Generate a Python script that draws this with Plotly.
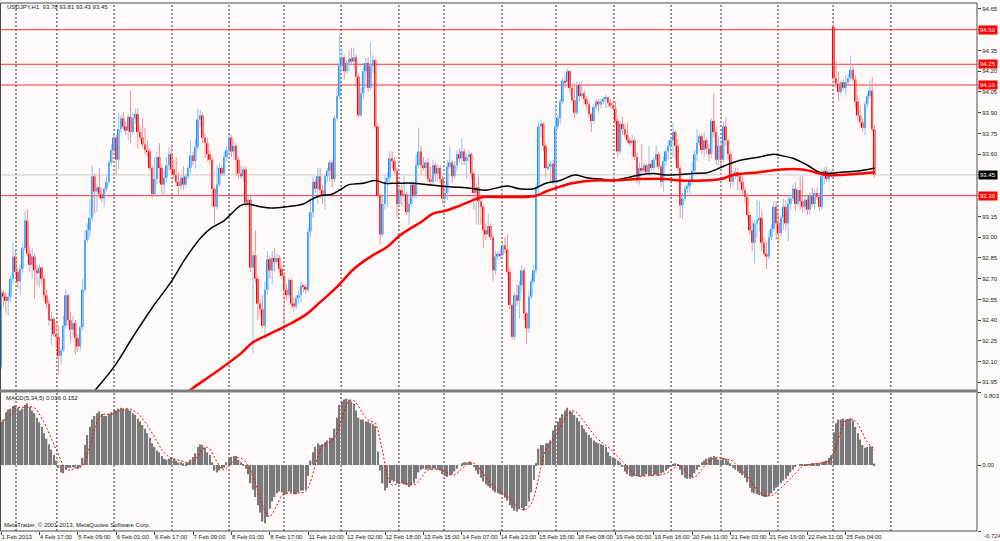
import plotly.graph_objects as go
import pandas as pd

# ---------------- data ----------------
time_labels = ["1 Feb 2013", "4 Feb 17:00", "5 Feb 09:00", "6 Feb 01:00", "6 Feb 17:00",
               "7 Feb 09:00", "8 Feb 01:00", "8 Feb 17:00", "11 Feb 10:00", "12 Feb 02:00",
               "12 Feb 18:00", "13 Feb 15:00", "14 Feb 07:00", "14 Feb 23:00", "15 Feb 15:00",
               "18 Feb 08:00", "19 Feb 00:00", "19 Feb 16:00", "20 Feb 11:00", "21 Feb 03:00",
               "21 Feb 19:00", "22 Feb 11:00", "25 Feb 04:00"]
label_step = 16  # bars between time labels

open_ = [
    92.06, 92.60, 92.57, 92.54, 92.57, 92.70, 92.86, 92.75, 92.68, 92.77,
    92.92, 93.12, 92.88, 92.80, 92.86, 92.76, 92.74, 92.78, 92.70, 92.58,
    92.52, 92.40, 92.41, 92.30, 92.28, 92.14, 92.18, 92.36, 92.58, 92.40,
    92.33, 92.38, 92.27, 92.21, 92.35, 92.62, 92.98, 93.05, 93.14, 93.44,
    93.33, 93.36, 93.31, 93.28, 93.35, 93.40, 93.54, 93.63, 93.72, 93.56,
    93.78, 93.86, 93.80, 93.77, 93.87, 93.76, 93.86, 93.89, 93.76, 93.72,
    93.67, 93.63, 93.62, 93.50, 93.31, 93.42, 93.58, 93.50, 93.38, 93.43,
    93.52, 93.60, 93.49, 93.45, 93.40, 93.37, 93.43, 93.38, 93.44, 93.50,
    93.59, 93.55, 93.65, 93.85, 93.88, 93.72, 93.68, 93.60, 93.56, 93.35,
    93.22, 93.38, 93.50, 93.46,
    93.58, 93.63, 93.72, 93.62, 93.66, 93.56, 93.46, 93.44, 93.49, 93.25,
    93.27, 92.78, 92.87, 92.70, 92.52, 92.48, 92.36, 92.62, 92.84, 92.76,
    92.85, 92.82, 92.85, 92.77, 92.72, 92.62, 92.58, 92.69, 92.52, 92.50,
    92.56, 92.58, 92.65, 92.64, 92.62, 93.04, 93.18, 93.40, 93.35, 93.44,
    93.34, 93.30, 93.44, 93.48, 93.54, 93.42, 93.86, 94.02, 94.24, 94.30,
    94.20, 94.26, 94.29, 94.27, 94.30, 94.16, 93.88, 94.04, 94.20, 94.26,
    94.08, 94.24, 94.28, 93.80, 93.30, 93.02, 93.24, 93.40, 93.43, 93.57,
    93.55, 93.48, 93.24, 93.34, 93.30, 93.31, 93.18, 93.24, 93.38, 93.30,
    93.52, 93.62, 93.52, 93.50, 93.54, 93.42, 93.40, 93.52, 93.46, 93.50,
    93.42,
    93.28, 93.32, 93.51, 93.54, 93.44, 93.52, 93.60, 93.57, 93.62, 93.55,
    93.58, 93.60, 93.46, 93.32, 93.36, 93.26, 93.22, 93.05, 93.02, 93.08,
    93.00, 92.76, 92.86, 92.88, 92.87, 92.94, 92.91, 92.75, 92.51, 92.28,
    92.58, 92.54, 92.65, 92.76, 92.45, 92.34, 92.57, 92.68, 92.76, 93.36,
    93.80, 93.82, 93.66, 93.50, 93.51, 93.53, 93.40, 93.80, 93.86, 93.98,
    94.13, 94.12, 94.20, 94.08, 93.99, 93.90, 94.10, 94.02, 94.04, 94.00,
    93.96, 93.89, 93.84, 93.94, 93.98, 93.96, 93.98, 94.00, 94.01, 93.97,
    93.95, 93.93, 93.84, 93.62, 93.82, 93.78, 93.74, 93.70, 93.68, 93.70,
    93.58, 93.42, 93.50, 93.48, 93.52, 93.47, 93.53, 93.50, 93.56, 93.60,
    93.51, 93.40, 93.55, 93.62, 93.66, 93.70, 93.76, 93.66, 93.50, 93.23,
    93.28, 93.35, 93.37, 93.40, 93.48, 93.60, 93.68, 93.73, 93.63, 93.70,
    93.64, 93.60, 93.84, 93.76, 93.56, 93.66, 93.56, 93.80, 93.70, 93.60,
    93.40, 93.44, 93.47, 93.44, 93.40, 93.34, 93.29, 93.16, 93.05, 92.96,
    93.10, 93.12, 93.14, 92.96, 92.88, 92.86, 93.00, 93.06, 93.22, 93.10,
    93.03, 93.14, 93.22, 93.10, 93.24, 93.28, 93.35, 93.24, 93.34, 93.26,
    93.22, 93.27, 93.20, 93.30, 93.24, 93.32, 93.29, 93.22, 93.44, 93.48,
    93.42, 93.46, 94.52, 94.15, 94.11, 94.05, 94.12, 94.08, 94.12, 94.15,
    94.21, 94.14, 93.98, 93.88, 93.83, 93.79, 93.96, 94.02, 94.06, 93.78,
]

high = [
    92.64, 92.62, 92.60, 92.60, 92.72, 92.96, 92.90, 92.78, 92.80, 92.96,
    93.19, 93.20, 92.93, 92.92, 92.88, 92.80, 92.80, 92.79, 92.72, 92.62,
    92.55, 92.46, 92.42, 92.38, 92.36, 92.20, 92.43, 92.62, 92.59, 92.46,
    92.43, 92.40, 92.30, 92.36, 92.70, 93.05, 93.10, 93.27, 93.52, 93.46,
    93.39, 93.50, 93.36, 93.36, 93.45, 93.56, 93.67, 93.74, 93.74, 93.90,
    93.88, 93.90, 93.84, 93.89, 94.06, 93.90, 93.93, 93.93, 93.80, 93.86,
    93.79, 93.70, 93.64, 93.52, 93.58, 93.62, 93.68, 93.52, 93.48, 93.58,
    93.65, 93.66, 93.56, 93.58, 93.47, 93.45, 93.51, 93.46, 93.52, 93.70,
    93.62, 93.71, 93.93, 93.92, 93.90, 93.75, 93.72, 93.63, 93.58, 93.36,
    93.52, 93.54, 93.52, 93.62,
    93.66, 93.74, 93.74, 93.70, 93.68, 93.58, 93.52, 93.51, 93.51, 93.30,
    93.31, 92.90, 93.05, 92.72, 92.55, 92.58, 92.68, 92.90, 92.86, 92.90,
    92.92, 92.88, 92.87, 92.80, 92.75, 92.66, 92.71, 92.70, 92.56, 92.58,
    92.62, 92.68, 92.66, 92.66, 93.07, 93.27, 93.44, 93.42, 93.50, 93.50,
    93.38, 93.46, 93.50, 93.56, 93.56, 93.88, 94.08, 94.47, 94.37, 94.32,
    94.28, 94.35, 94.37, 94.37, 94.32, 94.18, 94.08, 94.24, 94.30, 94.30,
    94.41, 94.32, 94.29, 93.82, 93.32, 93.30, 93.44, 93.47, 93.62, 93.62,
    93.58, 93.50, 93.36, 93.38, 93.44, 93.33, 93.28, 93.40, 93.40, 93.60,
    93.79, 93.66, 93.58, 93.56, 93.57, 93.51, 93.56, 93.54, 93.53, 93.52,
    93.44,
    93.38, 93.56, 93.66, 93.56, 93.55, 93.63, 93.64, 93.72, 93.64, 93.60,
    93.63, 93.61, 93.47, 93.39, 93.44, 93.28, 93.23, 93.10, 93.17, 93.10,
    93.02, 92.90, 92.90, 92.92, 92.96, 93.00, 93.02, 92.78, 92.52, 92.60,
    92.66, 92.68, 92.80, 92.78, 92.46, 92.61, 92.70, 92.80, 93.39, 93.83,
    93.85, 93.83, 93.68, 93.54, 93.55, 93.56, 93.95, 93.88, 94.00, 94.15,
    94.17, 94.22, 94.21, 94.10, 94.10, 94.13, 94.12, 94.13, 94.06, 94.02,
    93.98, 93.90, 93.96, 94.00, 94.00, 94.00, 94.01, 94.03, 94.02, 94.00,
    93.99, 93.98, 93.86, 93.84, 93.87, 93.82, 93.83, 93.72, 93.74, 93.72,
    93.61, 93.54, 93.67, 93.54, 93.53, 93.66, 93.56, 93.58, 93.66, 93.62,
    93.52, 93.58, 93.64, 93.70, 93.72, 93.83, 93.77, 93.71, 93.52, 93.32,
    93.38, 93.39, 93.44, 93.54, 93.63, 93.78, 93.75, 93.75, 93.76, 93.72,
    93.67, 93.86, 94.04, 93.80, 93.73, 93.70, 93.83, 93.86, 93.71, 93.62,
    93.48, 93.50, 93.50, 93.47, 93.44, 93.36, 93.32, 93.18, 93.12, 93.12,
    93.27, 93.26, 93.20, 93.00, 92.97, 93.05, 93.09, 93.26, 93.26, 93.17,
    93.16, 93.28, 93.26, 93.30, 93.30, 93.38, 93.40, 93.36, 93.44, 93.44,
    93.30, 93.31, 93.32, 93.36, 93.34, 93.36, 93.32, 93.49, 93.51, 93.51,
    93.49, 93.48, 94.55, 94.27, 94.20, 94.13, 94.14, 94.17, 94.18, 94.31,
    94.24, 94.17, 94.03, 93.95, 93.86, 93.98, 94.04, 94.13, 94.16, 93.81,
]

low = [
    92.04, 92.50, 92.45, 92.43, 92.53, 92.66, 92.72, 92.63, 92.58, 92.74,
    92.90, 92.86, 92.75, 92.70, 92.55, 92.65, 92.64, 92.66, 92.54, 92.48,
    92.36, 92.22, 92.28, 92.20, 92.01, 92.08, 92.17, 92.34, 92.36, 92.24,
    92.28, 92.15, 92.17, 92.18, 92.33, 92.60, 92.96, 93.00, 93.12, 93.17,
    93.18, 93.28, 93.25, 93.22, 93.33, 93.38, 93.52, 93.60, 93.45, 93.49,
    93.75, 93.78, 93.74, 93.70, 93.68, 93.74, 93.82, 93.64, 93.70, 93.64,
    93.60, 93.58, 93.48, 93.28, 93.29, 93.38, 93.39, 93.30, 93.30, 93.40,
    93.48, 93.46, 93.42, 93.37, 93.30, 93.34, 93.34, 93.36, 93.42, 93.46,
    93.52, 93.49, 93.63, 93.80, 93.68, 93.57, 93.55, 93.53, 93.22, 93.08,
    93.20, 93.36, 93.44, 93.44,
    93.55, 93.60, 93.58, 93.56, 93.44, 93.42, 93.42, 93.40, 93.22, 93.20,
    92.75, 92.16, 92.67, 92.40, 92.44, 92.34, 92.26, 92.58, 92.70, 92.66,
    92.75, 92.80, 92.74, 92.70, 92.37, 92.54, 92.56, 92.49, 92.46, 92.48,
    92.52, 92.53, 92.60, 92.59, 92.60, 93.00, 93.14, 93.32, 93.24, 93.28,
    93.24, 93.20, 93.40, 93.40, 93.36, 93.40, 93.84, 94.00, 94.20, 94.14,
    94.18, 94.20, 94.24, 94.22, 94.10, 93.86, 93.87, 94.00, 94.08, 94.05,
    94.06, 94.18, 93.78, 93.28, 92.95, 93.00, 93.20, 93.22, 93.40, 93.50,
    93.46, 93.14, 93.22, 93.22, 93.26, 93.16, 93.09, 93.22, 93.28, 93.28,
    93.50, 93.45, 93.48, 93.44, 93.40, 93.37, 93.38, 93.40, 93.40, 93.39,
    93.24,
    93.24, 93.27, 93.49, 93.39, 93.42, 93.48, 93.54, 93.52, 93.52, 93.42,
    93.55, 93.42, 93.20, 93.09, 93.09, 93.09, 92.92, 92.98, 93.00, 92.98,
    92.68, 92.73, 92.83, 92.84, 92.86, 92.88, 92.73, 92.48, 92.26, 92.26,
    92.50, 92.41, 92.60, 92.40, 92.23, 92.31, 92.55, 92.66, 92.74, 93.30,
    93.72, 93.62, 93.43, 93.48, 93.39, 93.38, 93.38, 93.78, 93.82, 93.96,
    94.08, 94.08, 94.05, 93.98, 93.86, 93.88, 93.98, 94.00, 93.96, 93.93,
    93.86, 93.76, 93.82, 93.92, 93.90, 93.93, 93.96, 93.93, 93.94, 93.93,
    93.92, 93.81, 93.58, 93.60, 93.74, 93.72, 93.68, 93.66, 93.58, 93.56,
    93.39, 93.38, 93.46, 93.46, 93.45, 93.44, 93.48, 93.48, 93.50, 93.49,
    93.36, 93.33, 93.52, 93.56, 93.60, 93.58, 93.56, 93.48, 93.14, 93.13,
    93.26, 93.32, 93.30, 93.38, 93.46, 93.55, 93.66, 93.60, 93.58, 93.60,
    93.55, 93.57, 93.72, 93.52, 93.52, 93.51, 93.54, 93.66, 93.56, 93.35,
    93.37, 93.42, 93.34, 93.38, 93.30, 93.25, 93.14, 93.02, 92.90, 92.81,
    93.00, 93.04, 92.90, 92.86, 92.77, 92.84, 92.98, 93.04, 92.98, 92.95,
    93.00, 93.05, 93.05, 92.97, 93.20, 93.26, 93.19, 93.22, 93.20, 93.18,
    93.19, 93.16, 93.16, 93.22, 93.20, 93.27, 93.19, 93.20, 93.38, 93.40,
    93.40, 93.43, 94.12, 94.08, 93.98, 94.03, 94.06, 94.03, 94.10, 94.13,
    94.12, 93.93, 93.84, 93.80, 93.76, 93.74, 93.94, 94.00, 93.76, 93.43,
]

close = [
    92.60, 92.57, 92.54, 92.57, 92.70, 92.86, 92.75, 92.68, 92.77, 92.92,
    93.12, 92.88, 92.80, 92.86, 92.76, 92.74, 92.78, 92.70, 92.58, 92.52,
    92.40, 92.41, 92.30, 92.28, 92.14, 92.18, 92.36, 92.58, 92.40, 92.33,
    92.38, 92.27, 92.21, 92.35, 92.62, 92.98, 93.05, 93.14, 93.44, 93.33,
    93.36, 93.31, 93.28, 93.35, 93.40, 93.54, 93.63, 93.72, 93.56, 93.78,
    93.86, 93.80, 93.77, 93.87, 93.76, 93.86, 93.89, 93.76, 93.72, 93.67,
    93.63, 93.62, 93.50, 93.31, 93.42, 93.58, 93.50, 93.38, 93.43, 93.52,
    93.60, 93.49, 93.45, 93.40, 93.37, 93.43, 93.38, 93.44, 93.50, 93.59,
    93.55, 93.65, 93.85, 93.88, 93.72, 93.68, 93.60, 93.56, 93.35, 93.22,
    93.38, 93.50, 93.46, 93.58,
    93.63, 93.72, 93.62, 93.66, 93.56, 93.46, 93.44, 93.49, 93.25, 93.27,
    92.78, 92.87, 92.70, 92.52, 92.48, 92.36, 92.62, 92.84, 92.76, 92.85,
    92.82, 92.85, 92.77, 92.72, 92.62, 92.58, 92.69, 92.52, 92.50, 92.56,
    92.58, 92.65, 92.64, 92.62, 93.04, 93.18, 93.40, 93.35, 93.44, 93.34,
    93.30, 93.44, 93.48, 93.54, 93.42, 93.86, 94.02, 94.24, 94.30, 94.20,
    94.26, 94.29, 94.27, 94.30, 94.16, 93.88, 94.04, 94.20, 94.26, 94.08,
    94.24, 94.28, 93.80, 93.30, 93.02, 93.24, 93.40, 93.43, 93.57, 93.55,
    93.48, 93.24, 93.34, 93.30, 93.31, 93.18, 93.24, 93.38, 93.30, 93.52,
    93.62, 93.52, 93.50, 93.54, 93.42, 93.40, 93.52, 93.46, 93.50, 93.42,
    93.28,
    93.32, 93.51, 93.54, 93.44, 93.52, 93.60, 93.57, 93.62, 93.55, 93.58,
    93.60, 93.46, 93.32, 93.36, 93.26, 93.22, 93.05, 93.02, 93.08, 93.00,
    92.76, 92.86, 92.88, 92.87, 92.94, 92.91, 92.75, 92.51, 92.28, 92.58,
    92.54, 92.65, 92.76, 92.45, 92.34, 92.57, 92.68, 92.76, 93.36, 93.80,
    93.82, 93.66, 93.50, 93.51, 93.53, 93.40, 93.80, 93.86, 93.98, 94.13,
    94.12, 94.20, 94.08, 93.99, 93.90, 94.10, 94.02, 94.04, 94.00, 93.96,
    93.89, 93.84, 93.94, 93.98, 93.96, 93.98, 94.00, 94.01, 93.97, 93.95,
    93.93, 93.84, 93.62, 93.82, 93.78, 93.74, 93.70, 93.68, 93.70, 93.58,
    93.42, 93.50, 93.48, 93.52, 93.47, 93.53, 93.50, 93.56, 93.60, 93.51,
    93.40, 93.55, 93.62, 93.66, 93.70, 93.76, 93.66, 93.50, 93.23, 93.28,
    93.35, 93.37, 93.40, 93.48, 93.60, 93.68, 93.73, 93.63, 93.70, 93.64,
    93.60, 93.84, 93.76, 93.56, 93.66, 93.56, 93.80, 93.70, 93.60, 93.40,
    93.44, 93.47, 93.44, 93.40, 93.34, 93.29, 93.16, 93.05, 92.96, 93.10,
    93.12, 93.14, 92.96, 92.88, 92.86, 93.00, 93.06, 93.22, 93.10, 93.03,
    93.14, 93.22, 93.10, 93.24, 93.28, 93.35, 93.24, 93.34, 93.26, 93.22,
    93.27, 93.20, 93.30, 93.24, 93.32, 93.29, 93.22, 93.44, 93.48, 93.42,
    93.46, 93.47, 94.15, 94.11, 94.05, 94.12, 94.08, 94.12, 94.15, 94.21,
    94.14, 93.98, 93.88, 93.83, 93.79, 93.96, 94.02, 94.06, 93.78, 93.45,
]

macd_main = [
    0.46, 0.50, 0.58, 0.61, 0.62, 0.65, 0.66, 0.63, 0.60, 0.62,
    0.66, 0.68, 0.64, 0.60, 0.57, 0.52, 0.47, 0.42, 0.35, 0.29,
    0.23, 0.17, 0.11, 0.05, -0.03, -0.08, -0.09, -0.05, -0.03, -0.03,
    -0.02, -0.03, -0.04, -0.02, 0.08, 0.22, 0.33, 0.42, 0.50, 0.54,
    0.57, 0.59, 0.56, 0.54, 0.54, 0.56, 0.58, 0.61, 0.60, 0.62,
    0.63, 0.62, 0.62, 0.61, 0.60, 0.57, 0.55, 0.51, 0.48, 0.44,
    0.40, 0.35, 0.30, 0.24, 0.20, 0.16, 0.14, 0.10, 0.07, 0.06,
    0.07, 0.08, 0.07, 0.05, 0.03, 0.03, 0.02, 0.02, 0.03, 0.06,
    0.09, 0.13, 0.20, 0.23, 0.22, 0.19, 0.14, 0.11, 0.03, -0.06,
    -0.08, -0.06, -0.04, -0.03,
    0.03, 0.07, 0.09, 0.10, 0.10, 0.06, 0.03, 0.01, -0.04, -0.10,
    -0.20, -0.27, -0.35, -0.44, -0.52, -0.62, -0.64, -0.57, -0.48, -0.40,
    -0.35, -0.31, -0.29, -0.30, -0.33, -0.32, -0.29, -0.30, -0.32, -0.32,
    -0.30, -0.28, -0.28, -0.27, -0.12, 0.05, 0.14, 0.20, 0.24, 0.22,
    0.23, 0.25, 0.27, 0.30, 0.30, 0.40, 0.52, 0.66, 0.70, 0.72,
    0.73, 0.72, 0.70, 0.67, 0.60, 0.52, 0.50, 0.50, 0.48, 0.48,
    0.46, 0.45, 0.43, 0.15, -0.06, -0.20, -0.28, -0.25, -0.20, -0.17,
    -0.18, -0.20, -0.21, -0.20, -0.21, -0.22, -0.24, -0.22, -0.20, -0.15,
    -0.08, -0.05, -0.04, -0.05, -0.04, -0.05, -0.04, -0.04, -0.05, -0.06,
    -0.10,
    -0.12, -0.13, -0.11, -0.10, -0.07, -0.04, 0.00, 0.02, 0.03, 0.03,
    0.04, 0.03, -0.02, -0.06, -0.10, -0.14, -0.18, -0.21, -0.23, -0.25,
    -0.28, -0.30, -0.31, -0.32, -0.33, -0.36, -0.39, -0.44, -0.47, -0.50,
    -0.51, -0.48, -0.47, -0.50, -0.45, -0.40, -0.30, -0.16, 0.02, 0.18,
    0.22, 0.22, 0.24, 0.24, 0.27, 0.38, 0.44, 0.48, 0.52, 0.56,
    0.60, 0.63, 0.60, 0.58, 0.55, 0.52, 0.48, 0.44, 0.40, 0.36,
    0.33, 0.30, 0.27, 0.25, 0.24, 0.23, 0.22, 0.20, 0.14, 0.10,
    0.08, 0.07, 0.05, 0.03, -0.02, -0.07, -0.10, -0.12, -0.13, -0.12,
    -0.12, -0.13, -0.12, -0.12, -0.10, -0.11, -0.12, -0.11, -0.10, -0.12,
    -0.09, -0.08, -0.06, -0.04, -0.01, 0.01, 0.02, 0.01, -0.05, -0.11,
    -0.14, -0.15, -0.15, -0.13, -0.09, -0.05, -0.01, 0.03, 0.05, 0.07,
    0.08, 0.09, 0.10, 0.08, 0.06, 0.06, 0.08, 0.07, 0.05, 0.02,
    -0.03, -0.05, -0.07, -0.09, -0.11, -0.14, -0.19, -0.25, -0.30, -0.31,
    -0.32, -0.33, -0.34, -0.35, -0.35, -0.33, -0.31, -0.28, -0.25, -0.22,
    -0.20, -0.17, -0.15, -0.12, -0.08, -0.05, -0.02, 0.00, 0.01, 0.01,
    0.01, 0.01, 0.01, 0.02, 0.02, 0.02, 0.02, 0.03, 0.04, 0.05,
    0.08, 0.11, 0.36, 0.46, 0.50, 0.50, 0.51, 0.50, 0.50, 0.51,
    0.49, 0.42, 0.35, 0.28, 0.22, 0.19, 0.20, 0.21, 0.20, 0.016,
]

# moving averages, read at sample bars along each line
black_ma_bar = [37, 40, 47, 55, 63, 71, 77, 84, 88, 93, 96, 100, 103, 108, 113, 119, 126, 129,
                133, 138, 141, 145, 151, 156, 160, 165, 172, 177, 183, 191, 197, 202, 211, 216,
                222, 227, 233, 239, 244, 250, 255, 261, 266, 272, 277, 288, 295, 302, 309, 316,
                322, 325, 330, 336, 341, 345, 350, 358, 364]
black_ma_val = [91.85, 91.91, 92.06, 92.28, 92.49, 92.68, 92.85, 93.01, 93.07, 93.12, 93.17, 93.23,
                93.24, 93.22, 93.21, 93.22, 93.24, 93.27, 93.30, 93.31, 93.34, 93.38, 93.39, 93.41,
                93.39, 93.39, 93.39, 93.38, 93.37, 93.36, 93.35, 93.34, 93.37, 93.35, 93.35, 93.39,
                93.41, 93.45, 93.43, 93.42, 93.41, 93.43, 93.45, 93.46, 93.45, 93.46, 93.47, 93.52,
                93.56, 93.58, 93.60, 93.59, 93.57, 93.52, 93.47, 93.46, 93.47, 93.48, 93.50]
red_ma_bar = [76, 80, 90, 100, 105, 112, 119, 127, 133, 140, 147, 155, 161, 166, 175, 180, 185,
              190, 197, 201, 209, 215, 223, 227, 232, 238, 247, 255, 266, 277, 283, 300, 305,
              316, 325, 334, 339, 344, 350, 358, 364]
red_ma_val = [91.86, 91.91, 92.03, 92.16, 92.24, 92.30, 92.36, 92.44, 92.53, 92.64, 92.77, 92.87,
              92.93, 93.01, 93.11, 93.17, 93.19, 93.22, 93.27, 93.29, 93.29, 93.29, 93.30, 93.33,
              93.36, 93.39, 93.41, 93.41, 93.42, 93.42, 93.41, 93.42, 93.45, 93.47, 93.49, 93.49,
              93.47, 93.45, 93.45, 93.46, 93.47]

level_lines = [94.50, 94.25, 94.10, 93.30]
bid_price = 93.45
price_ticks = [94.65, 94.50, 94.35, 94.20, 94.05, 93.90, 93.75, 93.60, 93.45, 93.30,
               93.15, 93.00, 92.85, 92.70, 92.55, 92.40, 92.25, 92.10, 91.95]
macd_top, macd_bottom = 0.803, -0.724
title_text = "USDJPY,H1  93.78 93.81 93.43 93.45"
macd_title = "MACD(5,34,5) 0.016 0.152"
copyright_text = "MetaTrader, \u00a9 2001-2013, MetaQuotes Software Corp."

# ---------------- layout constants (pixels) ----------------
W, H = 1000, 541
PLOT_R = 977              # right border of chart area
BAR_PX = 2.4              # pixels per bar
BAR0_PX = 1.0             # pixel of first bar
PRICE_T, PRICE_B = 3, 390
MACD_T, MACD_B = 392, 531
price_range = [91.895, 94.693]
day_sep_bars = [6.25, 23.3, 47.1, 71.25, 95, 117.9, 141.7, 165.8, 184.6, 208.75,
                231.25, 255.4, 279.2, 300, 323.75, 346.7, 370.8]

FONT = "Liberation Sans"
TXT = "#1a1a1a"
BG = "#FFFAFA"
UP_BODY, UP_WICK = "#1E90FF", "#8CC4F5"
DN_BODY, DN_WICK = "#FF0000", "#F59090"


def yp(px):
    return 1 - px / H


n = min(len(open_), len(high), len(low), len(close), len(macd_main))
xs = list(range(n))
up = [i for i in xs if close[i] >= open_[i]]
dn = [i for i in xs if close[i] < open_[i]]


def wicks(idx):
    xw, yw = [], []
    for i in idx:
        xw += [i, i, None]
        yw += [low[i], high[i], None]
    return xw, yw


fig = go.Figure()

for idx, wc in ((up, UP_WICK), (dn, DN_WICK)):
    xw, yw = wicks(idx)
    fig.add_trace(go.Scatter(x=xw, y=yw, mode="lines", line=dict(color=wc, width=1),
                             hoverinfo="skip", xaxis="x", yaxis="y"))

for idx, bc in ((up, UP_BODY), (dn, DN_BODY)):
    fig.add_trace(go.Bar(
        x=idx,
        y=[max(abs(close[i] - open_[i]), 0.006) for i in idx],
        base=[min(open_[i], close[i]) for i in idx],
        width=0.8, marker=dict(color=bc, line=dict(width=0)),
        hoverinfo="skip", xaxis="x", yaxis="y"))

fig.add_trace(go.Scatter(x=black_ma_bar, y=black_ma_val, mode="lines",
                         line=dict(color="#000000", width=1.5, shape="spline"),
                         hoverinfo="skip", xaxis="x", yaxis="y"))
fig.add_trace(go.Scatter(x=red_ma_bar, y=red_ma_val, mode="lines",
                         line=dict(color="#FF0000", width=2.5, shape="spline"),
                         hoverinfo="skip", xaxis="x", yaxis="y"))

# MACD panel
signal = pd.Series(macd_main[:n]).rolling(5, min_periods=1).mean().tolist()
fig.add_trace(go.Bar(x=xs, y=macd_main[:n], width=0.6,
                     marker=dict(color="#7A7A7A", line=dict(width=0)),
                     hoverinfo="skip", xaxis="x2", yaxis="y2"))
fig.add_trace(go.Scatter(x=xs, y=signal, mode="lines",
                         line=dict(color="#FF0000", width=1, dash="2px,2px"),
                         hoverinfo="skip", xaxis="x2", yaxis="y2"))

x_range = [(0 - BAR0_PX) / BAR_PX, (PLOT_R - BAR0_PX) / BAR_PX]
xdom = [0, PLOT_R / W]
tickfont = dict(family=FONT, size=6, color=TXT)

# price tick labels hidden where a price box sits on top of them
boxed = set([round(v, 2) for v in level_lines] + [round(bid_price, 2)])
price_ticktext = ["" if round(v, 2) in boxed else f"{v:.2f}" for v in price_ticks]

shapes = []
for b in day_sep_bars:
    shapes.append(dict(type="line", xref="x", yref="paper", x0=b, x1=b,
                       y0=yp(MACD_B), y1=yp(PRICE_T), layer="below",
                       line=dict(color="#303030", width=1, dash="2px,2px")))
for lv in level_lines:
    shapes.append(dict(type="line", xref="paper", yref="y", x0=0, x1=PLOT_R / W,
                       y0=lv, y1=lv, layer="below", line=dict(color="#FF3030", width=1)))
shapes.append(dict(type="line", xref="paper", yref="y", x0=0, x1=PLOT_R / W,
                   y0=bid_price, y1=bid_price, layer="below",
                   line=dict(color="#C8C8C8", width=1)))
shapes.append(dict(type="rect", xref="paper", yref="paper", x0=0.0005, x1=PLOT_R / W,
                   y0=yp(MACD_B), y1=yp(PRICE_T), line=dict(color="#4A4A4A", width=1)))
shapes.append(dict(type="line", xref="paper", yref="paper", x0=0, x1=PLOT_R / W,
                   y0=yp(391), y1=yp(391), line=dict(color="#7F7F7F", width=3)))

annotations = []
for lv in level_lines:
    annotations.append(dict(xref="paper", yref="y", x=(PLOT_R + 1) / W, y=lv,
                            xanchor="left", yanchor="middle", showarrow=False,
                            text=f"{lv:.2f}", bgcolor="#FF0000", borderpad=1,
                            font=dict(family=FONT, size=6, color="#FFFFFF")))
annotations.append(dict(xref="paper", yref="y", x=(PLOT_R + 1) / W, y=bid_price,
                        xanchor="left", yanchor="middle", showarrow=False,
                        text=f"{bid_price:.2f}", bgcolor="#000000", borderpad=1,
                        font=dict(family=FONT, size=6, color="#FFFFFF")))
annotations.append(dict(xref="paper", yref="paper", x=(PLOT_R + 5) / W, y=yp(396),
                        xanchor="left", yanchor="middle", showarrow=False,
                        text=f"{macd_top:.3f}", font=tickfont))
annotations.append(dict(xref="paper", yref="paper", x=(PLOT_R + 5) / W, y=yp(536),
                        xanchor="left", yanchor="middle", showarrow=False,
                        text=f"{macd_bottom:.3f}", font=tickfont))
annotations.append(dict(xref="paper", yref="paper", x=5 / W, y=yp(7), xanchor="left",
                        yanchor="middle", showarrow=False, text=title_text, font=tickfont))
annotations.append(dict(xref="paper", yref="paper", x=4 / W, y=yp(398), xanchor="left",
                        yanchor="middle", showarrow=False, text=macd_title, font=tickfont))
annotations.append(dict(xref="paper", yref="paper", x=2 / W, y=yp(525), xanchor="left",
                        yanchor="middle", showarrow=False, text=copyright_text, font=tickfont))

fig.update_layout(
    width=W, height=H, margin=dict(l=0, r=0, t=0, b=0),
    paper_bgcolor=BG, plot_bgcolor=BG,
    showlegend=False, hovermode=False, dragmode=False, barmode="overlay",
    xaxis=dict(domain=xdom, range=x_range, anchor="y", showticklabels=False,
               showgrid=False, zeroline=False, ticks=""),
    yaxis=dict(domain=[yp(PRICE_B), yp(PRICE_T)], range=price_range, anchor="x",
               side="right", tickvals=price_ticks, ticktext=price_ticktext,
               ticks="outside", ticklen=3, tickcolor="#404040", tickfont=tickfont,
               showgrid=False, zeroline=False),
    xaxis2=dict(domain=xdom, range=x_range, anchor="y2", matches="x",
                tickvals=[k * label_step for k in range(len(time_labels))],
                ticktext=time_labels, tickangle=0, ticks="outside", ticklen=3,
                tickcolor="#404040", ticklabelposition="outside right", tickfont=tickfont,
                showgrid=False, zeroline=False),
    yaxis2=dict(domain=[yp(MACD_B), yp(MACD_T)], range=[macd_bottom, macd_top],
                anchor="x2", side="right", tickvals=[macd_top, 0, macd_bottom],
                ticktext=["", "0.00", ""], ticks="outside", ticklen=3, tickcolor="#404040",
                tickfont=tickfont, showgrid=False, zeroline=False),
    shapes=shapes, annotations=annotations,
)

fig.write_html("out.html", config={"displayModeBar": False},
               post_script="document.body.style.margin='0';document.body.style.padding='0';"
                           "document.body.style.overflow='hidden';")
